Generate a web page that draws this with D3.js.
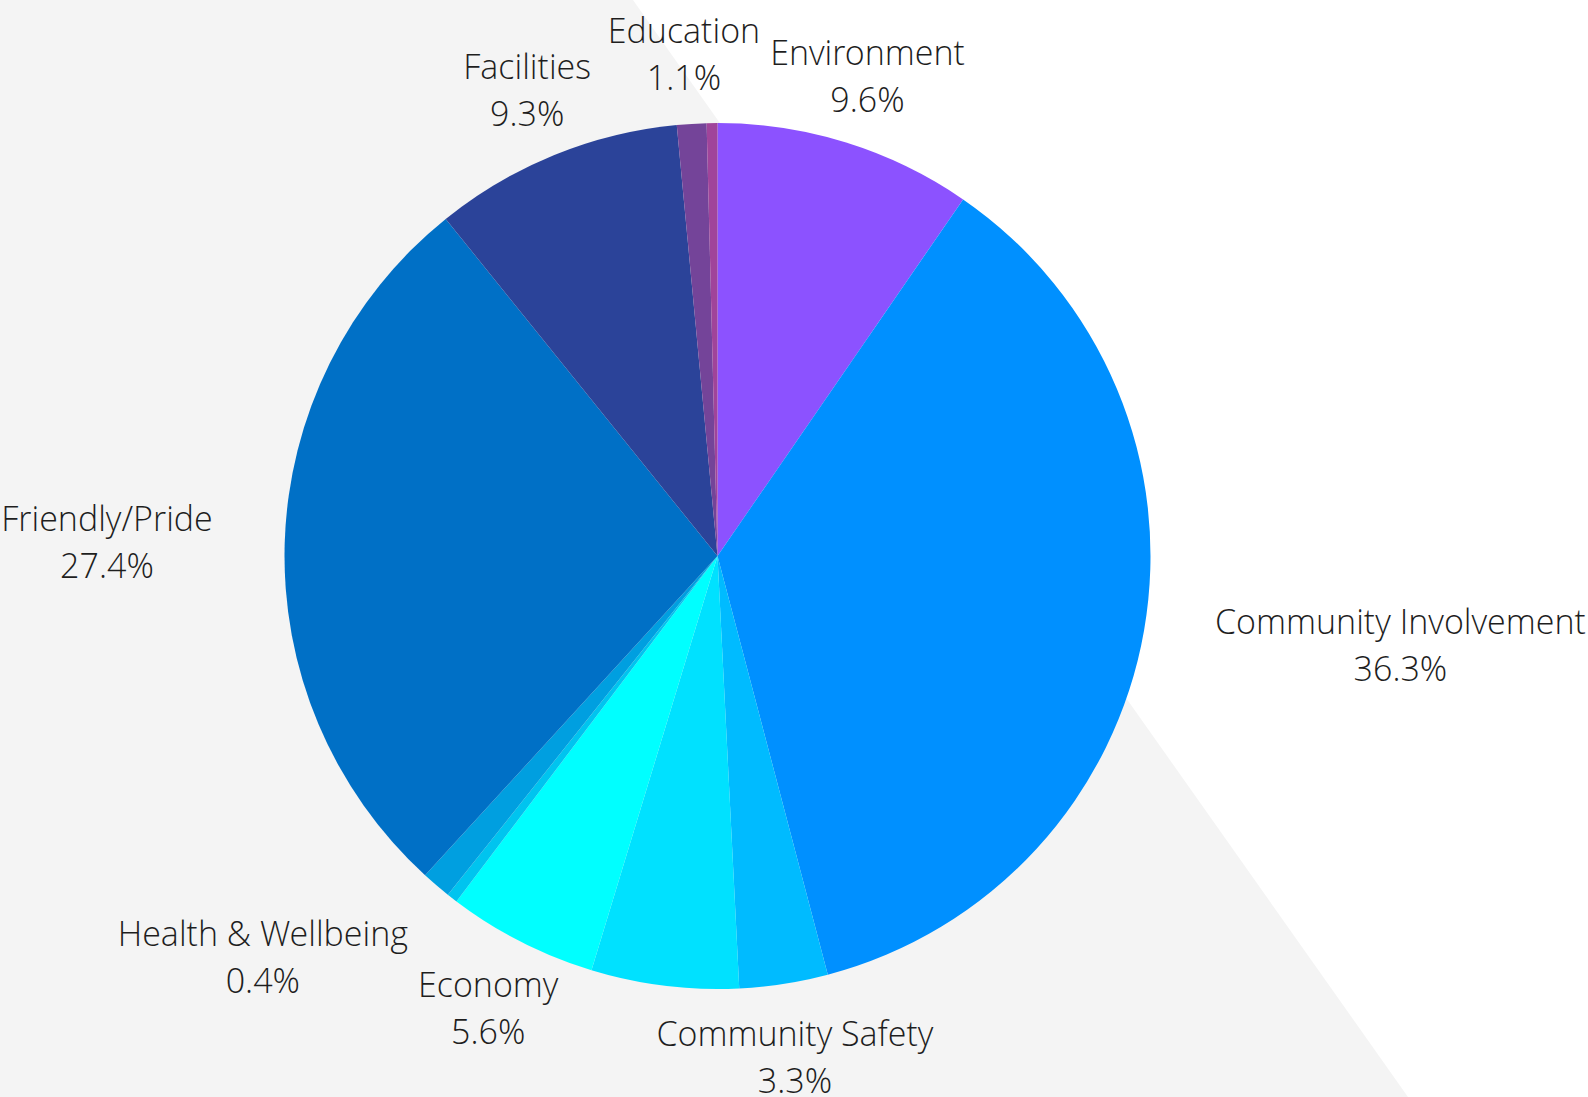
<!DOCTYPE html>
<html><head><meta charset="utf-8">
<script src="https://cdn.jsdelivr.net/npm/d3@7"></script>
<style>
html,body{margin:0;padding:0;background:#fff;}
svg{display:block;}
text{font-family:"Open Sans Light","Open Sans",sans-serif;font-weight:300;fill:#1e1e1e;}
</style></head><body>
<svg id="chart" width="1588" height="1097"></svg>
<script>
// Data (clockwise from 12 o'clock)
const categories = ["Environment","Community Involvement","Community Safety","","Economy","Health & Wellbeing","","Friendly/Pride","Facilities","Education",""];
const values     = [9.6, 36.3, 3.3, 5.5, 5.6, 0.4, 1.1, 27.4, 9.3, 1.1, 0.4];
const colors     = ["#8c52ff","#0090ff","#00bbff","#00e1ff","#00ffff","#00c4ef","#009fe0","#0070c6","#2b4399","#744499","#a0449a"];

const W = 1588, H = 1097;
const cx = 717.5, cy = 556, R = 433, labelR = 505;
const fontSize = 34, lineH = 47;

const svg = d3.select("#chart");

// background gray half-plane
svg.append("path")
  .attr("d", d3.line()([[0,0],[633,0],[1408,H],[0,H]]) + "Z")
  .attr("fill", "#f4f4f4");

const pie = d3.pie().sort(null).value(d => d.v);
const arcs = pie(values.map((v,i)=>({v, name:categories[i], color:colors[i]})));
const arc = d3.arc().innerRadius(0).outerRadius(R);

const g = svg.append("g").attr("transform", `translate(${cx},${cy})`);
g.selectAll("path").data(arcs).join("path")
  .attr("d", arc)
  .attr("fill", d => d.data.color);

// labels
const lg = g.append("g");
const labels = [];
arcs.forEach(d => {
  if (!d.data.name) return;
  const a = (d.startAngle + d.endAngle) / 2;
  const s = Math.sin(a), c = -Math.cos(a);
  const ax = labelR * s, ay = labelR * c;
  const t = lg.append("g");
  const t1 = t.append("text").attr("text-anchor","middle").attr("font-size",fontSize)
    .attr("y", -lineH/2).attr("dy","0.42em").text(d.data.name);
  const t2 = t.append("text").attr("text-anchor","middle").attr("font-size",fontSize)
    .attr("y", lineH/2).attr("dy","0.42em").text(d3.format(".1f")(d.data.v) + "%");
  const w = Math.max(t1.node().getComputedTextLength(), t2.node().getComputedTextLength());
  let x = ax, y = ay;
  if (Math.abs(s) > Math.SQRT1_2) x = ax + Math.sign(s) * w / 2;
  labels.push({t, x, y, w, h: lineH * 2, side: Math.sign(s)});
});
// simple horizontal collision resolution, pushing outward
for (let i = 0; i < labels.length; i++) {
  for (let j = 0; j < i; j++) {
    const A = labels[j], B = labels[i];
    const overlapY = Math.abs(A.y - B.y) < (A.h + B.h) / 2 - 20;
    const overlapX = Math.abs(A.x - B.x) < (A.w + B.w) / 2 + 8;
    if (overlapY && overlapX) {
      const dir = B.x < A.x ? -1 : 1;
      B.x = A.x + dir * ((A.w + B.w) / 2 + 10);
    }
  }
}
labels.forEach(L => L.t.attr("transform", `translate(${L.x},${L.y})`));
</script>
</body></html>
